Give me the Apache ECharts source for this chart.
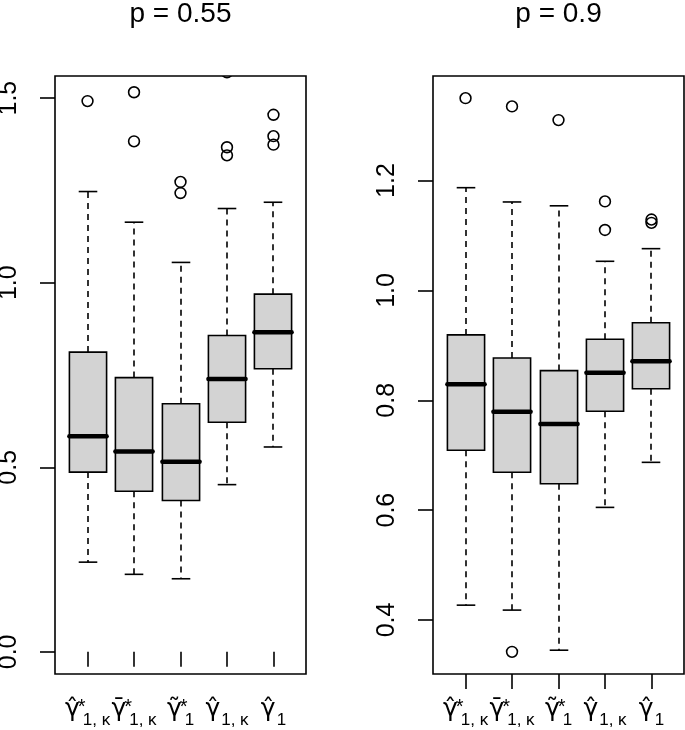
<!DOCTYPE html>
<html>
<head>
<meta charset="utf-8">
<script src="https://cdn.jsdelivr.net/npm/echarts@6.0.0/dist/echarts.min.js"></script>
<style>
html,body{margin:0;padding:0;background:#ffffff;}
#chart{width:685px;height:730px;}
</style>
</head>
<body>
<div id="chart"></div>
<script>
// ---------------- data ----------------
const categories = ['hatStar', 'barStar', 'tildeStar', 'hat1k', 'hat1'];
const panelTitles = ['p = 0.55', 'p = 0.9'];

// panel A : p = 0.55
const lowA    = [0.243, 0.210, 0.198, 0.453, 0.555];
const q1A     = [0.487, 0.435, 0.410, 0.622, 0.767];
const medA    = [0.584, 0.543, 0.515, 0.739, 0.866];
const q3A     = [0.812, 0.743, 0.672, 0.857, 0.969];
const highA   = [1.247, 1.164, 1.055, 1.201, 1.218];
const outCatA = [1, 2, 2, 3, 3, 4, 4, 4, 5, 5, 5];
const outValA = [1.492, 1.516, 1.383, 1.273, 1.243, 1.570, 1.367, 1.345, 1.455, 1.397, 1.374];
const ylimA   = [0, 1.5];
const yTicksA = [0, 0.5, 1.0, 1.5];

// panel B : p = 0.9
const lowB    = [0.427, 0.418, 0.345, 0.605, 0.687];
const q1B     = [0.709, 0.669, 0.648, 0.780, 0.821];
const medB    = [0.829, 0.779, 0.757, 0.850, 0.871];
const q3B     = [0.919, 0.877, 0.854, 0.911, 0.941];
const highB   = [1.187, 1.161, 1.154, 1.053, 1.076];
const outCatB = [1, 2, 2, 3, 4, 4, 5, 5];
const outValB = [1.350, 1.335, 0.342, 1.310, 1.162, 1.110, 1.129, 1.123];
const yTicksB = [0.4, 0.6, 0.8, 1.0, 1.2];

// x-axis labels (rich text)
const xLabelText = [
  '{g|γ̂}{s|*}{b|1, κ}',
  '{g|γ̄}{s|*}{b|1, κ}',
  '{g|γ̃}{s|*}{b|1}',
  '{g|γ̂}{b|1, κ}',
  '{g|γ̂}{b|1}'
];

// ---------------- helpers ----------------
const FONT = "'Liberation Sans', Arial, Helvetica, sans-serif";
const n = categories.length;
const xMin = 0.5 - 0.04 * n, xMax = n + 0.5 + 0.04 * n;
function ext(lo, hi) { const d = (hi - lo) * 0.04; return [lo - d, hi + d]; }
const yRangeA = ext(ylimA[0], ylimA[1]);
const allB = lowB.concat(highB, outValB);
const yRangeB = ext(Math.min.apply(null, allB), Math.max.apply(null, allB));

function boxData(lo, q1, md, q3, hi) {
  return categories.map((c, i) => [i + 1, lo[i], q1[i], md[i], q3[i], hi[i]]);
}
function outData(cat, val) { return cat.map((c, i) => [c, val[i]]); }

const LW = 1.6;
function renderBox(params, api) {
  const x = api.value(0);
  const lo = api.coord([x, api.value(1)]);
  const q1 = api.coord([x, api.value(2)]);
  const md = api.coord([x, api.value(3)]);
  const q3 = api.coord([x, api.value(4)]);
  const hi = api.coord([x, api.value(5)]);
  const bw = api.size([0.8, 0])[0];
  const cw = api.size([0.4, 0])[0];
  const cx = Math.round(lo[0]);
  const dash = { stroke: '#000', lineWidth: LW, lineDash: [6, 5], fill: null };
  const solid = { stroke: '#000', lineWidth: LW, fill: null };
  return {
    type: 'group',
    children: [
      { type: 'line', shape: { x1: cx, y1: q3[1], x2: cx, y2: hi[1] }, style: dash },
      { type: 'line', shape: { x1: cx, y1: q1[1], x2: cx, y2: lo[1] }, style: dash },
      { type: 'line', shape: { x1: cx - cw / 2, y1: hi[1], x2: cx + cw / 2, y2: hi[1] }, style: solid },
      { type: 'line', shape: { x1: cx - cw / 2, y1: lo[1], x2: cx + cw / 2, y2: lo[1] }, style: solid },
      { type: 'rect', shape: { x: cx - bw / 2, y: q3[1], width: bw, height: q1[1] - q3[1] },
        style: { fill: '#d3d3d3', stroke: '#000', lineWidth: LW } },
      { type: 'line', shape: { x1: cx - bw / 2, y1: md[1], x2: cx + bw / 2, y2: md[1] },
        style: { stroke: '#000', lineWidth: 4.5, lineCap: 'round' } }
    ]
  };
}
function renderOut(params, api) {
  const p = api.coord([api.value(0), api.value(1)]);
  return { type: 'circle', shape: { cx: p[0], cy: p[1], r: 5.4 },
           style: { fill: null, stroke: '#000', lineWidth: LW } };
}

const grids = [
  { left: 55, top: 76, width: 251, height: 598 },
  { left: 433, top: 76, width: 251, height: 598 }
];

function xAxisFor(gi) {
  return {
    gridIndex: gi, type: 'value', min: xMin, max: xMax,
    axisLine: { show: false }, splitLine: { show: false },
    axisTick: { show: true, length: 15, customValues: [1, 2, 3, 4, 5], lineStyle: { color: '#000', width: LW } },
    axisLabel: {
      customValues: [1, 2, 3, 4, 5], margin: 23, color: '#000',
      formatter: v => xLabelText[Math.round(v) - 1],
      rich: {
        g: { fontSize: 25, fontFamily: "'DejaVu Sans', sans-serif", lineHeight: 25, verticalAlign: 'top', color: '#000' },
        s: { fontSize: 20, fontFamily: FONT, lineHeight: 14, width: 0, padding: [0, 0, 0, 2], verticalAlign: 'top', color: '#000' },
        b: { fontSize: 17, fontFamily: FONT, lineHeight: 17, padding: [15, 0, 0, 1], verticalAlign: 'top', color: '#000' }
      }
    }
  };
}
function yAxisFor(gi, range, ticks) {
  return {
    gridIndex: gi, type: 'value', min: range[0], max: range[1],
    axisLine: { show: false }, splitLine: { show: false },
    axisTick: { show: true, length: 15, customValues: ticks, lineStyle: { color: '#000', width: LW } },
    axisLabel: {
      customValues: ticks, rotate: 90, margin: 33, color: '#000',
      fontSize: 25, fontFamily: FONT,
      formatter: v => v.toFixed(1)
    }
  };
}

const chart = echarts.init(document.getElementById('chart'), null, { renderer: 'canvas' });
chart.setOption({
  animation: false,
  backgroundColor: '#fff',
  grid: grids.map(g => Object.assign({ show: true, borderColor: '#000', borderWidth: LW, backgroundColor: 'transparent',
                                       containLabel: false, outerBoundsMode: 'none' }, g)),
  xAxis: [xAxisFor(0), xAxisFor(1)],
  yAxis: [yAxisFor(0, yRangeA, yTicksA), yAxisFor(1, yRangeB, yTicksB)],
  graphic: panelTitles.map((t, i) => ({
    type: 'text', x: grids[i].left + grids[i].width / 2, y: 14,
    style: { text: t, fill: '#000', font: '28px ' + FONT, textAlign: 'center', textVerticalAlign: 'middle' }
  })),
  series: [
    { type: 'custom', name: 'boxA', xAxisIndex: 0, yAxisIndex: 0, renderItem: renderBox,
      dimensions: ['x', 'lo', 'q1', 'med', 'q3', 'hi'], encode: { x: 'x', y: ['lo', 'q1', 'med', 'q3', 'hi'] },
      data: boxData(lowA, q1A, medA, q3A, highA), clip: true },
    { type: 'custom', name: 'outA', xAxisIndex: 0, yAxisIndex: 0, renderItem: renderOut,
      dimensions: ['x', 'v'], encode: { x: 'x', y: 'v' }, data: outData(outCatA, outValA), clip: true },
    { type: 'custom', name: 'boxB', xAxisIndex: 1, yAxisIndex: 1, renderItem: renderBox,
      dimensions: ['x', 'lo', 'q1', 'med', 'q3', 'hi'], encode: { x: 'x', y: ['lo', 'q1', 'med', 'q3', 'hi'] },
      data: boxData(lowB, q1B, medB, q3B, highB), clip: true },
    { type: 'custom', name: 'outB', xAxisIndex: 1, yAxisIndex: 1, renderItem: renderOut,
      dimensions: ['x', 'v'], encode: { x: 'x', y: 'v' }, data: outData(outCatB, outValB), clip: true }
  ]
});
</script>
</body>
</html>
